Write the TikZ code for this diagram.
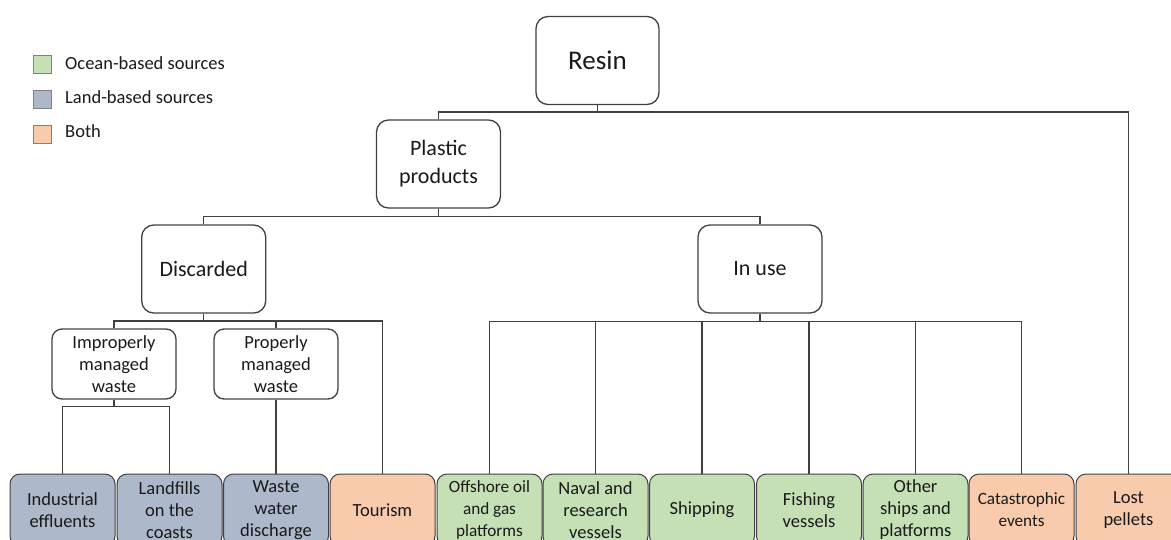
\documentclass[tikz,border=0pt]{standalone}
\usepackage{fontspec}
\setmainfont{Carlito}
\definecolor{ocean}{HTML}{C5E0B4}
\definecolor{land}{HTML}{ADB9CA}
\definecolor{both}{HTML}{F8CBAD}
\definecolor{edge}{HTML}{404040}
\definecolor{txt}{HTML}{1A1A1A}
\begin{document}
\begin{tikzpicture}[x=1pt,y=-1pt,
  box/.style={draw=edge, line width=1.3pt, rounded corners=12pt, align=center, inner sep=0pt, text=txt},
  topbox/.style={box, minimum width=123pt, minimum height=88pt, font=\fontsize{27}{32}\selectfont},
  midbox/.style={box, minimum width=124pt, minimum height=88pt, font=\fontsize{22}{28}\selectfont},
  subbox/.style={box, minimum width=124pt, minimum height=70pt, rounded corners=10pt, font=\fontsize{18.5}{22}\selectfont},
  leaf/.style={draw=edge, line width=1pt, rounded corners=10pt, minimum width=105pt, minimum height=72pt, inner sep=0pt, align=center, text=txt, font=\fontsize{18.5}{22}\selectfont},
  smallleaf/.style={leaf, font=\fontsize{17.2}{22}\selectfont},
  legsq/.style={draw=gray, line width=0.8pt, minimum width=18pt, minimum height=18pt, inner sep=0pt},
  legtxt/.style={anchor=west, inner sep=0pt, text=txt, font=\fontsize{18.5}{22}\selectfont},
  link/.style={draw=edge, line width=1.3pt},
]
\useasboundingbox (0,0) rectangle (1171,539);
\clip (0,0) rectangle (1171,539);

% legend
\node[legsq, fill=ocean] (lg1) at (42.5,64.5) {};
\node[legsq, fill=land]  (lg2) at (42.5,99) {};
\node[legsq, fill=both]  (lg3) at (42.5,134) {};
\node[legtxt] (lt1) at (65,63) {Ocean-based sources};
\node[legtxt] (lt2) at (65,97) {Land-based sources};
\node[legtxt] (lt3) at (65,131) {Both};

% hierarchy
\node[topbox] (resin) at (597.5,60.5) {Resin};
\node[midbox] (plastic) at (438.5,164) {Plastic\\products};
\node[midbox] (disc) at (203.7,269) {Discarded};
\node[midbox] (inuse) at (760,269) {In use};
\node[subbox] (improp) at (114,364) {Improperly\\managed\\waste};
\node[subbox] (prop) at (276,364) {Properly\\managed\\waste};

% leaves
\node[leaf, fill=land] (ind) at (62.5,510) {Industrial\\effluents};
\node[leaf, fill=land] (landf) at (169.5,510) {Landfills\\on the\\coasts};
\node[leaf, fill=land] (ww) at (276,510) {Waste\\water\\discharge};
\node[leaf, fill=both] (tour) at (382.5,510) {Tourism};
\node[smallleaf, fill=ocean] (off) at (489.5,510) {Offshore oil\\and gas\\platforms};
\node[leaf, fill=ocean] (naval) at (595.5,510) {Naval and\\research\\vessels};
\node[leaf, fill=ocean] (ship) at (702,510) {Shipping};
\node[leaf, fill=ocean] (fish) at (809,510) {Fishing\\vessels};
\node[leaf, fill=ocean] (other) at (915.5,510) {Other\\ships and\\platforms};
\node[smallleaf, fill=both] (cata) at (1021.5,510) {Catastrophic\\events};
\node[leaf, fill=both] (lost) at (1128.5,510) {Lost\\pellets};

% bus coordinates
\coordinate (b1) at (0,112);
\coordinate (b2) at (0,216.5);
\coordinate (b3) at (0,321);
\coordinate (b4) at (0,406.5);
\coordinate (b5) at (0,321.5);

% connectors
\path[link] (resin.south) -- (resin.south |- b1);
\path[link] (plastic.north) -- (plastic.north |- b1) -| (lost.north);

\path[link] (plastic.south) -- (plastic.south |- b2);
\path[link] (disc.north) -- (disc.north |- b2) -| (inuse.north);

\path[link] (disc.south) -- (disc.south |- b3);
\path[link] (improp.north) -- (improp.north |- b3) -| (tour.north);
\path[link] (prop.north) -- (prop.north |- b3);

\path[link] (improp.south) -- (improp.south |- b4);
\path[link] (ind.north) -- (ind.north |- b4) -| (landf.north);
\path[link] (prop.south) -- (ww.north);

\path[link] (inuse.south) -- (inuse.south |- b5);
\path[link] (off.north) -- (off.north |- b5) -| (cata.north);
\path[link] (naval.north) -- (naval.north |- b5);
\path[link] (ship.north) -- (ship.north |- b5);
\path[link] (fish.north) -- (fish.north |- b5);
\path[link] (other.north) -- (other.north |- b5);
\end{tikzpicture}
\end{document}
